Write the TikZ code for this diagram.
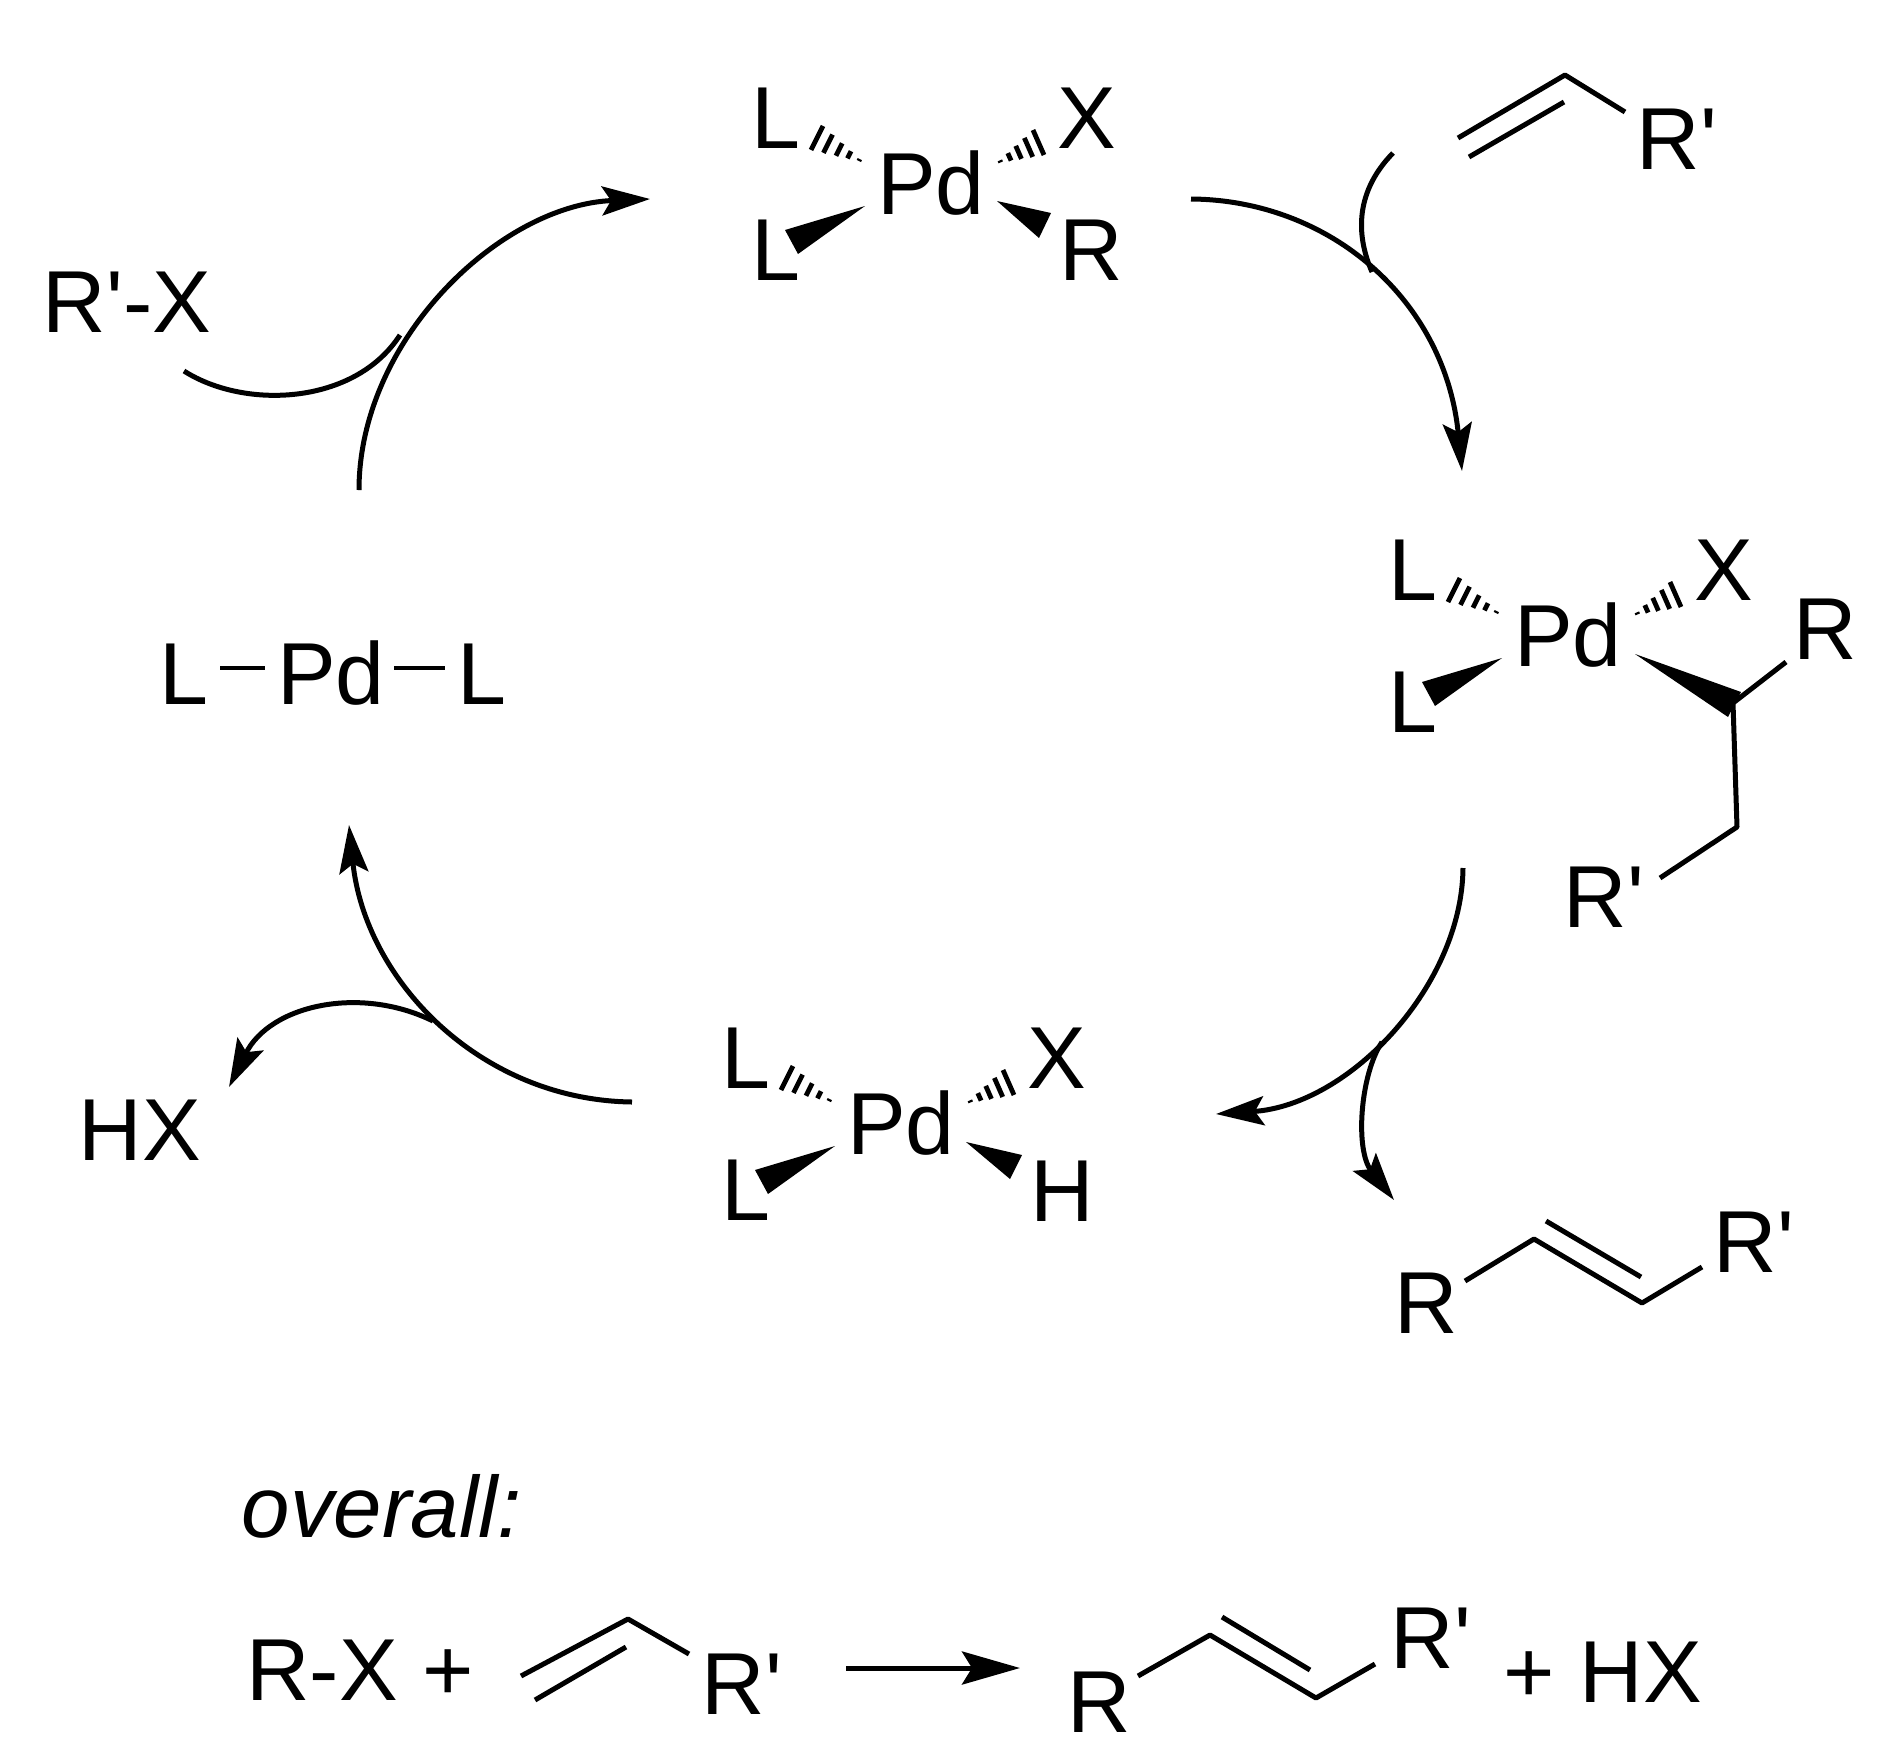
\documentclass[tikz,border=0pt]{standalone}
\usepackage{fontspec}
\setmainfont{Liberation Sans}
\usetikzlibrary{arrows.meta, calc}

% straight prime
\newcommand{\prm}{\textquotesingle}

% hashed wedge from the narrow end #1 to the wide end #2--#3
\newcommand{\hashbond}[3]{
    \foreach \t in {0.08,0.3,0.52,0.76,1} {
        \draw[line width=4.8pt] ($(#1)!\t!(#2)$) -- ($(#1)!\t!(#3)$);
    }
}

\begin{document}
\begin{tikzpicture}[
        x=1pt, y=-1pt,
        atom/.style={inner sep=0pt, anchor=base, font=\fontsize{88}{88}\selectfont},
        bond/.style={line width=5pt, line join=round},
        route/.style={line width=5pt, -{Stealth[length=48pt, width=29pt, inset=9pt]}},
        branch/.style={line width=5pt}
    ]
    \useasboundingbox (0,0) rectangle (1888,1751);

    % Pd complexes: name/x/y of the Pd baseline
    \foreach \n/\px/\py in {top/931/214, right/1568/666, low/901/1154} {
        \node[atom] (\n-Pd) at (\px,\py) {Pd};
        \node[atom] (\n-La) at (\px-155,\py-66) {L};
        \node[atom] (\n-Lb) at (\px-155,\py+66) {L};
        \node[atom] (\n-X) at (\px+156,\py-66) {X};
        \coordinate (\n-ha) at (\px-68,\py-52);
        \coordinate (\n-hb) at (\px-108,\py-88);
        \coordinate (\n-hc) at (\px-120,\py-64);
        \coordinate (\n-xa) at (\px+66,\py-51);
        \coordinate (\n-xb) at (\px+102,\py-84);
        \coordinate (\n-xc) at (\px+113,\py-59);
        \hashbond{\n-ha}{\n-hb}{\n-hc}
        \hashbond{\n-xa}{\n-xb}{\n-xc}
        \fill (\px-66,\py-8) coordinate (\n-wa) -- (\px-146,\py+16) coordinate (\n-wb) -- (\px-133,\py+40) coordinate (\n-wc) -- cycle;
    }

    % top complex, R wedge
    \node[atom] (top-R) at (1091,280) {R};
    \fill (997,201) coordinate (top-ra) -- (1051,213) coordinate (top-rb) -- (1039,238) coordinate (top-rc) -- cycle;

    % low complex, H wedge
    \node[atom] (low-H) at (1062,1221) {H};
    \fill (966,1142) coordinate (low-ra) -- (1022,1155) coordinate (low-rb) -- (1010,1179) coordinate (low-rc) -- cycle;

    % right complex, alkyl chain
    \node[atom] (right-R) at (1825,659) {R};
    \node[atom] (right-Rp) at (1604,927) {R\prm};
    \foreach \n/\x/\y in {ca/1733/703, cb/1737/827, cc/1786/662, cd/1660/878} {
        \coordinate (\n) at (\x,\y);
    }
    \fill (1635,654) coordinate (ce) -- (1741,692) coordinate (cf) -- (1728,717) coordinate (cg) -- cycle;
    \draw[bond] (cc) -- (ca) -- (cb) -- (cd);

    % free alkene at the top
    \node[atom] (in-Rp) at (1677,169) {R\prm};
    \foreach \n/\x/\y in {aa/1458/138, ab/1565/75, ac/1625/112, ad/1469/157, ae/1564/102} {
        \coordinate (\n) at (\x,\y);
    }
    \draw[bond] (aa) -- (ab) -- (ac);
    \draw[bond] (ad) -- (ae);

    % product alkene
    \node[atom] (out-R) at (1426,1333) {R};
    \node[atom] (out-Rp) at (1754,1272) {R\prm};
    \foreach \n/\x/\y in {pa/1465/1281, pb/1534/1239, pc/1642/1303, pd/1702/1267, pe/1546/1221, pf/1641/1277} {
        \coordinate (\n) at (\x,\y);
    }
    \draw[bond] (pa) -- (pb) -- (pc) -- (pd);
    \draw[bond] (pe) -- (pf);

    % L-Pd-L
    \node[atom] (free-Pd) at (331,704) {Pd};
    \node[atom] (free-La) at (184,704) {L};
    \node[atom] (free-Lb) at (482,704) {L};
    \coordinate (ba) at (220,668);
    \coordinate (bb) at (265,668);
    \coordinate (bc) at (394,668);
    \coordinate (bd) at (445,668);
    \draw[line width=3.5pt] (ba) -- (bb);
    \draw[line width=3.5pt] (bc) -- (bd);

    \node[atom] (in-RX) at (127,332) {R\prm-X};
    \node[atom] (out-HX) at (140,1160) {HX};

    % Catalytic cycle
    \foreach \n/\x/\y in {sa/1191/199, ta/1462/471, sb/1463/868, tb/1216/1114, sc/632/1102, tc/349/825, sd/359/490, td/650/199} {
        \coordinate (\n) at (\x,\y);
    }
    \draw[route] (sa) .. controls (1330,200) and (1445,300) .. (ta);
    \draw[route] (sb) .. controls (1462,985) and (1350,1105) .. (tb);
    \draw[route] (sc) .. controls (480,1100) and (365,980) .. (tc);
    \draw[route] (sd) .. controls (359,340) and (500,205) .. (td);

    % Branches into and out of the cycle
    \foreach \n/\x/\y in {ma/1393/153, mb/1372/272, mc/1382/1042, md/1394/1200, me/433/1021, mf/229/1087, mg/184/371, mh/400/335} {
        \coordinate (\n) at (\x,\y);
    }
    \draw[branch] (ma) .. controls (1352,195) and (1358,240) .. (mb);
    \draw[route] (mc) .. controls (1360,1075) and (1355,1150) .. (md);
    \draw[route] (me) .. controls (360,985) and (270,1005) .. (mf);
    \draw[branch] (mg) .. controls (245,410) and (355,405) .. (mh);

    % Overall reaction
    \node[atom, font=\fontsize{87}{87}\selectfont\itshape] (sum-label) at (382,1537) {overall:};
    \node[atom] (sum-RX) at (360,1700) {R-X +};
    \node[atom] (sum-Rp) at (742,1714) {R\prm};
    \foreach \n/\x/\y in {qa/521/1676, qb/628/1619, qc/689/1654, qd/535/1700, qe/626/1647} {
        \coordinate (\n) at (\x,\y);
    }
    \draw[bond] (qa) -- (qb) -- (qc);
    \draw[bond] (qd) -- (qe);
    \coordinate (ra) at (846,1668);
    \coordinate (rb) at (1020,1668);
    \draw[route, -{Stealth[length=58pt, width=33pt, inset=10pt]}] (ra) -- (rb);
    \node[atom] (sum-R) at (1099,1732) {R};
    \node[atom] (sum-Rq) at (1431,1668) {R\prm};
    \node[atom] (sum-HX) at (1603,1702) {+ HX};
    \foreach \n/\x/\y in {ua/1138/1676, ub/1210/1635, uc/1316/1698, ud/1375/1664, ue/1222/1617, uf/1310/1670} {
        \coordinate (\n) at (\x,\y);
    }
    \draw[bond] (ua) -- (ub) -- (uc) -- (ud);
    \draw[bond] (ue) -- (uf);

\end{tikzpicture}
\end{document}
